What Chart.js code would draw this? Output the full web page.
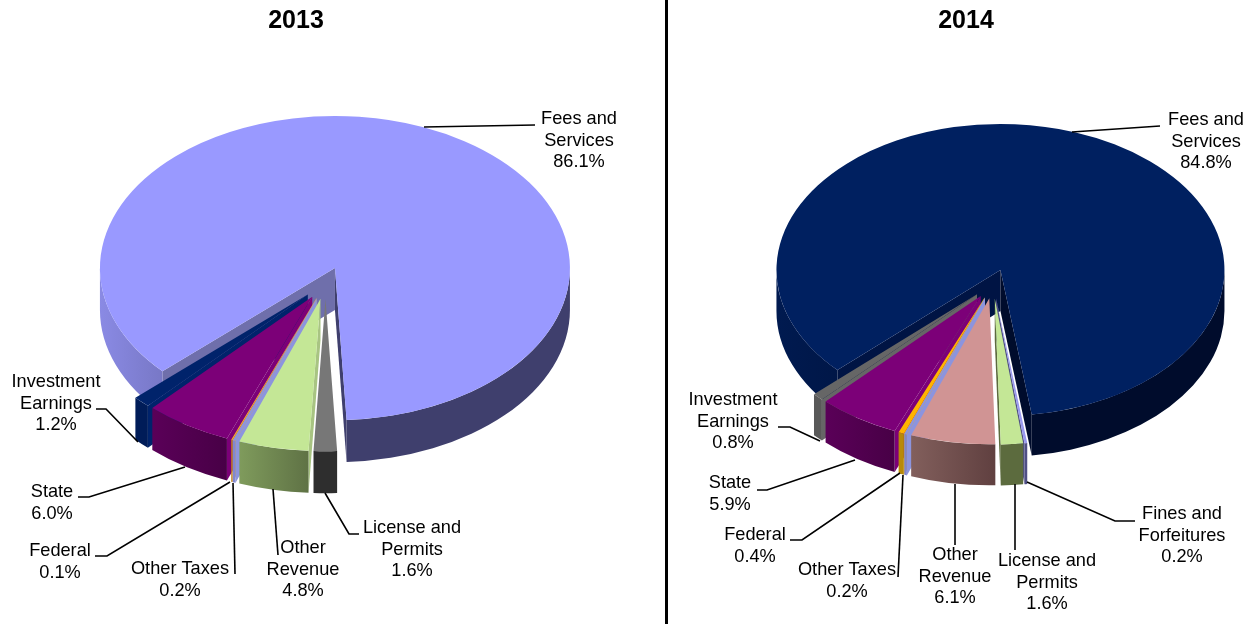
<!DOCTYPE html>
<html>
<head>
<meta charset="utf-8">
<title>Revenue 2013 and 2014</title>
<script src="https://cdn.jsdelivr.net/npm/chart.js@4/dist/chart.umd.min.js"></script>
<style>
  html, body { margin: 0; background: #fff; }
  canvas { position: absolute; left: 0; top: 0; }
  #divider { position: absolute; left: 665px; top: 0; width: 3px; height: 624px; background: #000; }
</style>
</head>
<body>
<canvas id="pie2013" width="1248" height="624"></canvas>
<canvas id="pie2014" width="1248" height="624"></canvas>
<div id="divider"></div>
<script>
// values, clockwise from the start of Fees and Services
const categories2013 = [['Fees and', 'Services'], ['License and', 'Permits'], ['Other', 'Revenue'], ['Other Taxes'], ['Federal'], ['State'], ['Investment', 'Earnings']];
const values2013 = [86.1, 1.6, 4.8, 0.2, 0.1, 6.0, 1.2];
const categories2014 = [['Fees and', 'Services'], ['Fines and', 'Forfeitures'], ['License and', 'Permits'], ['Other', 'Revenue'], ['Other Taxes'], ['Federal'], ['State'], ['Investment', 'Earnings']];
const values2014 = [84.8, 0.2, 1.6, 6.1, 0.2, 0.4, 5.9, 0.8];

// slice colours
const tops2013 = ['#9999ff', '#777777', '#c4e796', '#8c94de', '#f0a830', '#7c0078', '#00236b'];
const walls2013 = [
  ['#8a8ae4', '#6868ac', '#3f3f6d', '#3f3f6d', '#3f3f6d'],
  ['#2e2e2e', '#2e2e2e'],
  ['#7f9b5c', '#5f7245'],
  ['#8088d0', '#8088d0'],
  ['#c08020', '#c08020'],
  ['#5a0058', '#480046'],
  ['#001c58', '#001c58']
];
const edges2013 = ['#6f6fab', '#2e2e2e', '#a8c482', '#8c94de', '#f0a830', '#7c0078', '#00236b'];

const tops2014 = ['#002060', '#9a9aef', '#c4e796', '#d09494', '#8c94de', '#ffb400', '#7c0078', '#666666'];
const walls2014 = [
  ['#001a50', '#001440', '#000c2c', '#000c2c', '#000c2c'],
  ['#4f4f85', '#4f4f85'],
  ['#5c6b3e', '#5c6b3e'],
  ['#825f5c', '#604040'],
  ['#7f85cc', '#7f85cc'],
  ['#b88a08', '#b88a08'],
  ['#5a0058', '#480046'],
  ['#595959', '#595959']
];
const edges2014 = ['#001444', '#9a9aef', '#5c6b3e', '#d09494', '#8c94de', '#ffb400', '#7c0078', '#666666'];

// label centres and leader lines, page pixels
const labelAt2013 = [[579, 119], [412, 528], [303, 548], [180, 569], [60, 551], [52, 492], [56, 382]];
const leaders2013 = [
  [[535, 125], [424, 127]],
  [[359, 534], [349, 534], [325, 493]],
  [[278, 555], [273, 489]],
  [[235, 574], [233, 483]],
  [[95, 556], [107, 556], [230, 482]],
  [[78, 497], [89, 497], [185, 467]],
  [[96, 409], [106, 409], [138, 442]]
];
const labelAt2014 = [[1206, 120], [1182, 514], [1047, 561], [955, 555], [847, 570], [755, 535], [730, 483], [733, 400]];
const leaders2014 = [
  [[1160, 126], [1072, 132]],
  [[1135, 521], [1115, 521], [1027, 482]],
  [[1015, 550], [1015, 484]],
  [[955, 545], [955, 484]],
  [[898, 577], [903, 475]],
  [[790, 540], [802, 540], [900, 473]],
  [[757, 490], [767, 490], [855, 460]],
  [[778, 427], [790, 427], [820, 441]]
];

const FONT = '"Liberation Sans", Arial, sans-serif';

function gradientFor(ctx, colors, x0, x1) {
  const g = ctx.createLinearGradient(x0, 0, x1, 0);
  colors.forEach((c, i) => g.addColorStop(i / (colors.length - 1), c));
  return g;
}

// front part of a slice angle range, split where it crosses the back half
function frontRanges(a, b) {
  const out = [];
  for (let n = -1; n <= 2; n++) {
    const lo = Math.max(a, n * 2 * Math.PI);
    const hi = Math.min(b, n * 2 * Math.PI + Math.PI);
    if (hi > lo) out.push([lo, hi]);
  }
  return out;
}

const pie3d = {
  id: 'pie3d',
  beforeDatasetsDraw(chart, args, opts) {
    const { ctx } = chart;
    const arcs = chart.getDatasetMeta(0).data;
    const { tilt, depth, explode, walls, edges } = opts;

    // walls first, the ones furthest from the viewer at the back
    const order = arcs.map((arc, i) => i).sort((p, q) => {
      const mid = i => Math.sin((arcs[i].startAngle + arcs[i].endAngle) / 2);
      return mid(p) - mid(q);
    });
    order.forEach(i => {
      const arc = arcs[i];
      const a = arc.startAngle, b = arc.endAngle, mid = (a + b) / 2;
      const r = arc.outerRadius;
      const cx = arc.x + Math.cos(mid) * explode;
      const cy = arc.y + Math.sin(mid) * explode * tilt;
      const edgeWall = (t, color) => {
        const ex = cx + Math.cos(t) * r, ey = cy + Math.sin(t) * r * tilt;
        ctx.fillStyle = color;
        ctx.beginPath();
        ctx.moveTo(cx, cy);
        ctx.lineTo(ex, ey);
        ctx.lineTo(ex, ey + depth);
        ctx.lineTo(cx, cy + depth);
        ctx.closePath();
        ctx.fill();
      };
      if (Math.cos(a) < 0) edgeWall(a, edges[i]);
      if (Math.cos(b) > 0) edgeWall(b, walls[i][walls[i].length - 1]);

      const ranges = frontRanges(a, b);
      if (!ranges.length) return;
      let x0 = Infinity, x1 = -Infinity;
      ranges.forEach(([lo, hi]) => {
        [lo, hi].forEach(t => {
          x0 = Math.min(x0, cx + Math.cos(t) * r);
          x1 = Math.max(x1, cx + Math.cos(t) * r);
        });
      });
      if (ranges.length > 1) { x0 = cx - r; x1 = cx + r; }
      ctx.fillStyle = gradientFor(ctx, walls[i], x0, x1);
      ranges.forEach(([lo, hi]) => {
        ctx.beginPath();
        ctx.ellipse(cx, cy, r, r * tilt, 0, lo, hi);
        ctx.ellipse(cx, cy + depth, r, r * tilt, 0, hi, lo, true);
        ctx.closePath();
        ctx.fill();
      });
    });

    // the library's own arcs, flattened and pulled apart
    ctx.save();
    const cy = arcs[0].y;
    ctx.translate(0, cy);
    ctx.scale(1, tilt);
    ctx.translate(0, -cy);
    arcs.forEach(arc => {
      const mid = (arc.startAngle + arc.endAngle) / 2;
      ctx.save();
      ctx.translate(Math.cos(mid) * explode, Math.sin(mid) * explode);
      arc.draw(ctx);
      ctx.restore();
    });
    ctx.restore();
    return false;
  },
  afterDraw(chart, args, opts) {
    const { ctx } = chart;
    const labels = chart.data.labels;
    const values = chart.data.datasets[0].data;

    ctx.save();
    ctx.strokeStyle = '#000';
    ctx.lineWidth = 1.6;
    opts.leaders.forEach(pts => {
      ctx.beginPath();
      pts.forEach(([x, y], n) => (n ? ctx.lineTo(x, y) : ctx.moveTo(x, y)));
      ctx.stroke();
    });

    ctx.fillStyle = '#000';
    ctx.textAlign = 'center';
    ctx.textBaseline = 'middle';
    ctx.font = '18.2px ' + FONT;
    labels.forEach((lines, i) => {
      const [x, y] = opts.labelAt[i];
      const rows = [...lines, values[i].toFixed(1) + '%'];
      rows.forEach((row, n) => ctx.fillText(row, x, y + n * 21.5));
    });

    ctx.font = 'bold 25px ' + FONT;
    ctx.fillText(opts.title, opts.titleX, 21);
    ctx.restore();
  }
};

function makePie(id, title, titleX, labels, values, tops, walls, edges, labelAt, leaders, center, radius, tilt, depth, explode, rotation) {
  // the pie sits in the middle of the chart area, so pad the area round the centre
  const padX = 2 * center[0] - 1248;
  return new Chart(document.getElementById(id), {
    type: 'pie',
    data: {
      labels: labels,
      datasets: [{ data: values, backgroundColor: tops, borderWidth: 0, hoverOffset: 0 }]
    },
    options: {
      responsive: false,
      animation: false,
      events: [],
      rotation: rotation,
      radius: radius,
      layout: { padding: { left: Math.max(padX, 0), right: Math.max(-padX, 0), top: 0, bottom: 624 - 2 * center[1] } },
      plugins: {
        legend: { display: false },
        tooltip: { enabled: false },
        pie3d: { title, titleX, walls, edges, labelAt, leaders, tilt, depth, explode }
      }
    },
    plugins: [pie3d]
  });
}

makePie('pie2013', '2013', 296, categories2013, values2013, tops2013, walls2013, edges2013, labelAt2013, leaders2013, [325.5, 283], 235, 0.647, 42, 25, 227.2);
makePie('pie2014', '2014', 966, categories2014, values2014, tops2014, walls2014, edges2014, labelAt2014, leaders2014, [993, 283.8], 224, 0.652, 41, 22.5, 226.7);
</script>
</body>
</html>
